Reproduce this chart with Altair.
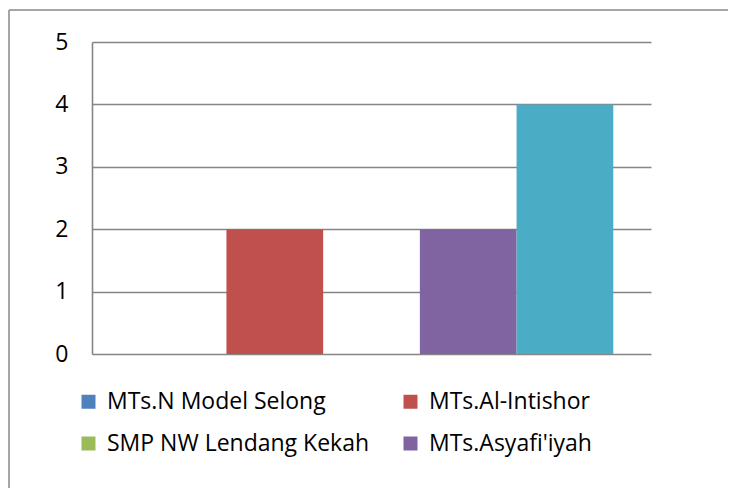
import altair as alt
import pandas as pd

series = ["MTs.N Model Selong", "MTs.Al-Intishor", "SMP NW Lendang Kekah",
          "MTs.Asyafi'iyah", "MTs.NW Lainnya"]
values = [0, 2, 0, 2, 4]
colors = ["#4F81BD", "#C0504D", "#9BBB59", "#8064A2", "#4BACC6"]
legend_items = ["MTs.N Model Selong", "SMP NW Lendang Kekah",
                "MTs.Al-Intishor", "MTs.Asyafi'iyah"]

df = pd.DataFrame({"series": series, "value": values})
FONT = "Open Sans"

bars = alt.Chart(df).mark_bar().encode(
    x=alt.X("series:N", sort=series, axis=None,
            scale=alt.Scale(paddingInner=0, paddingOuter=0.39)),
    y=alt.Y("value:Q",
            scale=alt.Scale(domain=[0, 5], nice=False),
            axis=alt.Axis(title=None, values=[0, 1, 2, 3, 4, 5], format="d",
                          grid=True, gridColor="#858585", gridWidth=1.6,
                          domainColor="#858585", domainWidth=1.6,
                          ticks=False, tickSize=0, labelPadding=24,
                          labelFont=FONT, labelFontSize=23, labelColor="#000000")),
    color=alt.Color("series:N", sort=series,
                    scale=alt.Scale(domain=series, range=colors),
                    legend=alt.Legend(values=legend_items, title=None, orient="none",
                                      legendX=-15, legendY=348, columns=2,
                                      columnPadding=29, rowPadding=18,
                                      symbolType="square", symbolSize=196,
                                      symbolStrokeWidth=0, labelOffset=7,
                                      labelFont=FONT, labelFontSize=23,
                                      labelColor="#000000", labelLimit=400)),
)

frame_df = pd.DataFrame({"k": [0]})
left_border = alt.Chart(frame_df).mark_rule(color="#888888", strokeWidth=1.5).encode(
    x=alt.value(-83), y=alt.value(-32), y2=alt.value(460))
top_border = alt.Chart(frame_df).mark_rule(color="#888888", strokeWidth=1.5).encode(
    x=alt.value(-83), x2=alt.value(700), y=alt.value(-32))

chart = alt.layer(bars, left_border, top_border).properties(
    width=559, height=312,
    autosize=alt.AutoSizeParams(type="none"),
    padding={"left": 84, "top": 34, "right": 77, "bottom": 134},
    background="#ffffff",
).configure_view(stroke=None)

chart.save("out.html", embed_options={"renderer": "svg", "actions": False})
